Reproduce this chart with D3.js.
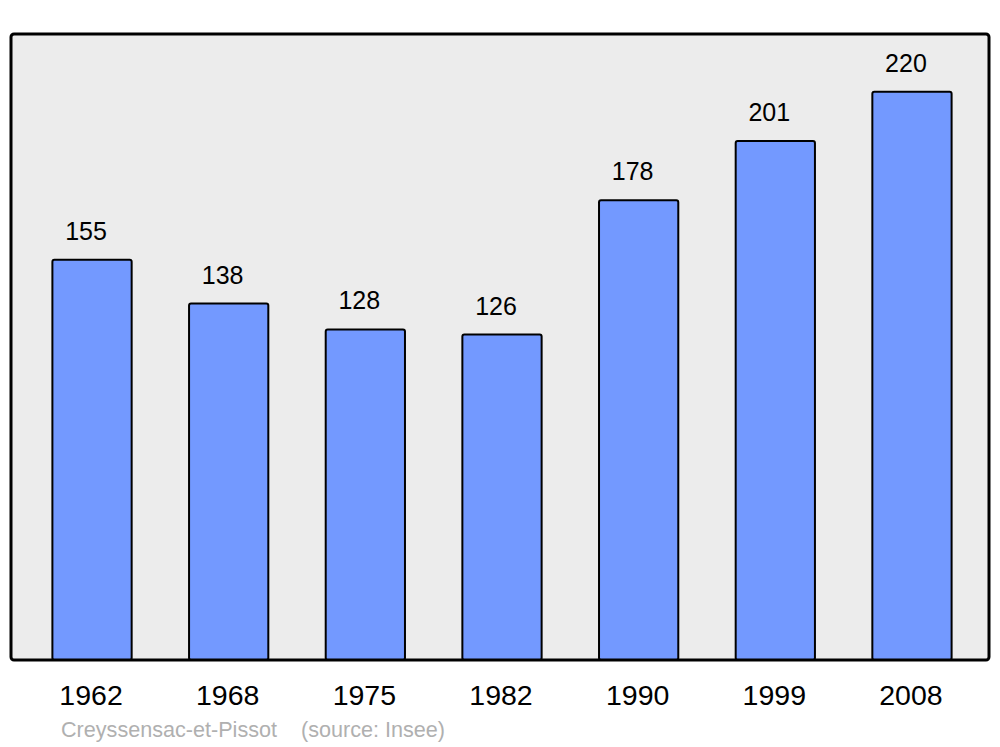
<!DOCTYPE html>
<html>
<head>
<meta charset="utf-8">
<script src="https://cdn.jsdelivr.net/npm/d3@7"></script>
<style>
	body { margin: 0; background: #fff; }
	text { font-family: "Liberation Sans", Arial, sans-serif; }
</style>
</head>
<body>
<div id="chart"></div>
<script>
'use strict'

var years = ['1962', '1968', '1975', '1982', '1990', '1999', '2008'];
var population = [155, 138, 128, 126, 178, 201, 220];
var commune = 'Creyssensac-et-Pissot';
var source = '(source: Insee)';

(function() {
	var dimensions = { width: 1000, height: 747 };
	var frame = { left: 11, right: 989, top: 34, bottom: 660 };

	var svg = d3.select('#chart')
		.append('svg')
		.attr('width', dimensions.width)
		.attr('height', dimensions.height);

	svg.append('rect')
		.attr('x', frame.left)
		.attr('y', frame.top)
		.attr('width', frame.right - frame.left)
		.attr('height', frame.bottom - frame.top)
		.attr('fill', '#ececec');

	var x = d3.scaleBand()
		.domain(years)
		.range([23.7, 980.3])
		.paddingInner(0.42)
		.paddingOuter(0.21);

	var y = d3.scaleLinear()
		.domain([0, 242.4])
		.range([frame.bottom, frame.top]);

	var rows = years.map(function(d, i) { return { year: d, value: population[i] }; });

	svg.append('g').selectAll('rect')
		.data(rows)
		.enter().append('rect')
		.attr('x', function(d) { return x(d.year); })
		.attr('y', function(d) { return y(d.value); })
		.attr('width', x.bandwidth())
		.attr('height', function(d) { return y(0) - y(d.value); })
		.attr('rx', 2)
		.attr('fill', '#7399ff')
		.attr('stroke', '#000')
		.attr('stroke-width', 2);

	svg.append('g').selectAll('text')
		.data(rows)
		.enter().append('text')
		.attr('x', function(d) { return x(d.year) + x.bandwidth() / 2 - 6; })
		.attr('y', function(d) { return y(d.value) - 20; })
		.attr('text-anchor', 'middle')
		.attr('font-size', 25)
		.attr('fill', '#000')
		.text(function(d) { return d.value; });

	// frame outline on top of the bars
	svg.append('rect')
		.attr('x', frame.left)
		.attr('y', frame.top)
		.attr('width', frame.right - frame.left)
		.attr('height', frame.bottom - frame.top)
		.attr('rx', 3)
		.attr('fill', 'none')
		.attr('stroke', '#000')
		.attr('stroke-width', 3);

	var xAxis = d3.axisBottom(x).tickSize(0).tickPadding(0);
	var gx = svg.append('g')
		.attr('transform', 'translate(-1,' + frame.bottom + ')')
		.call(xAxis);
	gx.select('.domain').remove();
	gx.selectAll('text')
		.attr('dy', null)
		.attr('y', 45)
		.attr('font-size', 28.5)
		.attr('font-family', '"Liberation Sans", Arial, sans-serif')
		.attr('fill', '#000');

	svg.append('text')
		.attr('x', 61)
		.attr('y', 737)
		.attr('font-size', 21.6)
		.attr('fill', '#b0b0b0')
		.text(commune);

	svg.append('text')
		.attr('x', 301)
		.attr('y', 737)
		.attr('font-size', 21.6)
		.attr('fill', '#b0b0b0')
		.text(source);
})();
</script>
</body>
</html>
